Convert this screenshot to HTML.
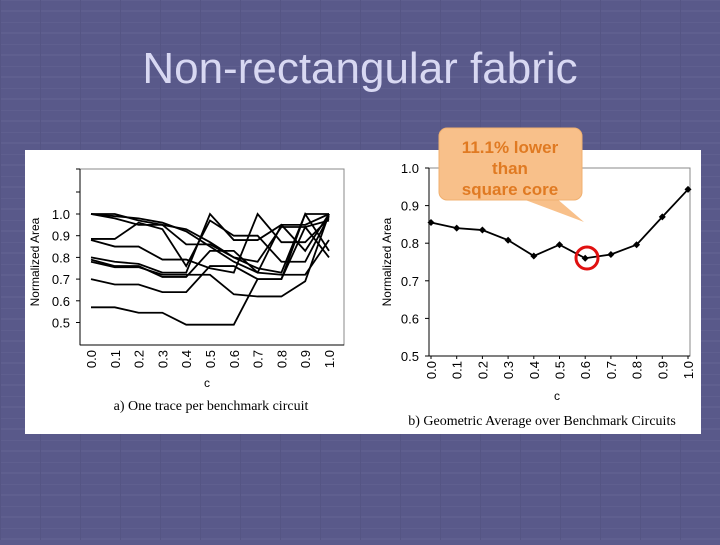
<!DOCTYPE html>
<html><head><meta charset="utf-8"><style>
body{margin:0;width:720px;height:540px;overflow:hidden;background:#5b5b8c;font-family:"Liberation Sans",sans-serif}
</style></head><body>
<svg width="720" height="540" xmlns="http://www.w3.org/2000/svg">
<defs>
<pattern id="grid" width="40" height="22" patternUnits="userSpaceOnUse">
<rect width="40" height="22" fill="#5b5b8c"/>
<path d="M0 0H40M0 11H40" stroke="#6a6a9a" stroke-width="2"/>
<path d="M0 0V22" stroke="#50507e" stroke-width="2"/>
</pattern>
</defs>
<rect width="720" height="540" fill="url(#grid)"/>
<rect width="720" height="540" fill="#585889" opacity="0.6"/>
<text x="360" y="83" font-size="44" fill="#d8d8f2" text-anchor="middle">Non-rectangular fabric</text>
<rect x="25" y="150" width="676" height="284" fill="#ffffff"/>
<g id="left"></g>
<g id="right"></g>
<g>
<path d="M520 198 L584 222 L556 198 Z" fill="#f8c08a"/>
<rect x="439" y="128" width="143" height="72" rx="8" fill="#f8c08a" stroke="#f0b070"/>
<text x="510" y="153" font-size="17" font-weight="bold" fill="#e07a22" text-anchor="middle">11.1% lower</text>
<text x="510" y="174" font-size="17" font-weight="bold" fill="#e07a22" text-anchor="middle">than</text>
<text x="510" y="195" font-size="17" font-weight="bold" fill="#e07a22" text-anchor="middle">square core</text>
</g>
<circle cx="587" cy="258" r="11" fill="none" stroke="#e01010" stroke-width="3"/>
</svg>
<script>
const NS="http://www.w3.org/2000/svg";
const cats=["0.0","0.1","0.2","0.3","0.4","0.5","0.6","0.7","0.8","0.9","1.0"];
const leftTicks=[0.5,0.6,0.7,0.8,0.9,1.0];
const rightTicks=[0.5,0.6,0.7,0.8,0.9,1.0];
const trace1=[1.0,1.0,0.97,0.95,0.93,0.87,0.8,0.75,0.73,1.0,1.0];
const trace2=[1.0,0.99,0.98,0.96,0.92,0.85,0.78,0.73,0.95,0.95,1.0];
const trace3=[1.0,0.98,0.95,0.95,0.86,0.86,0.8,0.78,0.94,0.94,0.97];
const trace4=[0.885,0.885,0.96,0.93,0.76,0.97,0.9,0.9,0.78,0.78,0.99];
const trace5=[0.88,0.85,0.85,0.79,0.79,0.75,0.73,1.0,0.87,0.87,0.98];
const trace6=[0.8,0.78,0.77,0.73,0.73,1.0,0.88,0.88,0.95,0.83,1.0];
const trace7=[0.79,0.76,0.76,0.71,0.71,0.83,0.83,0.73,0.72,0.72,0.88];
const trace8=[0.78,0.755,0.755,0.72,0.72,0.72,0.63,0.62,0.62,0.69,1.0];
const trace9=[0.70,0.675,0.675,0.64,0.64,0.76,0.76,0.70,0.70,0.94,0.80];
const trace10=[0.57,0.57,0.545,0.545,0.49,0.49,0.49,0.70,0.70,1.0,0.83];
const traces=[trace1,trace2,trace3,trace4,trace5,trace6,trace7,trace8,trace9,trace10];
const avg=[0.855,0.84,0.835,0.808,0.766,0.796,0.76,0.77,0.796,0.87,0.943];

function mk(p,tag,a,txt){const e=document.createElementNS(NS,tag);for(const k in a)e.setAttribute(k,a[k]);if(txt!==undefined)e.textContent=txt;p.appendChild(e);return e;}

// left chart
const L=document.getElementById('left');
const lx=i=>91+i*23.8, ly=v=>214+(1.0-v)*217;
mk(L,'rect',{x:80,y:169,width:264,height:176,fill:'none',stroke:'#888','stroke-width':1});
mk(L,'line',{x1:80,y1:169,x2:80,y2:345,stroke:'#000'});
mk(L,'line',{x1:80,y1:345,x2:344,y2:345,stroke:'#000'});
[169,192].forEach(y=>mk(L,'line',{x1:76,y1:y,x2:80,y2:y,stroke:'#000'}));
leftTicks.forEach(t=>{const y=ly(t);mk(L,'line',{x1:76,y1:y,x2:80,y2:y,stroke:'#000'});
 const e=mk(L,'text',{x:70,y:y+5,'font-size':13,'text-anchor':'end',fill:'#000'},t.toFixed(1));
 });
cats.forEach((c,i)=>{const e=mk(L,'text',{transform:`translate(${lx(i)+5},350) rotate(-90)`,'font-size':13,'text-anchor':'end',fill:'#000'},c);
 });
let t=mk(L,'text',{transform:'translate(39,262) rotate(-90)','font-size':12,'text-anchor':'middle',fill:'#000'},'Normalized Area');

t=mk(L,'text',{x:207,y:387,'font-size':12,'text-anchor':'middle',fill:'#000'},'c');

t=mk(L,'text',{x:211,y:410,'font-size':14,'text-anchor':'middle',fill:'#000','font-family':'Liberation Serif'},'a) One trace per benchmark circuit');

traces.forEach(tr=>{const p=mk(L,'polyline',{points:tr.map((v,i)=>lx(i)+','+ly(v)).join(' '),fill:'none',stroke:'#000','stroke-width':1.8});
 });

// right chart
const R=document.getElementById('right');
const rx=i=>431+i*25.7, ry=v=>168+(1.0-v)*376;
mk(R,'rect',{x:429,y:168,width:261,height:188,fill:'none',stroke:'#888'});
mk(R,'line',{x1:429,y1:168,x2:429,y2:356,stroke:'#000'});
mk(R,'line',{x1:429,y1:356,x2:690,y2:356,stroke:'#000'});
rightTicks.forEach(v=>{const y=ry(v);mk(R,'line',{x1:425,y1:y,x2:429,y2:y,stroke:'#000'});
 const e=mk(R,'text',{x:419,y:y+5,'font-size':13,'text-anchor':'end',fill:'#000'},v.toFixed(1));
 });
cats.forEach((c,i)=>{mk(R,'line',{x1:rx(i),y1:356,x2:rx(i),y2:359,stroke:'#000'});
 const e=mk(R,'text',{transform:`translate(${rx(i)+5},361) rotate(-90)`,'font-size':13,'text-anchor':'end',fill:'#000'},c);
 });
t=mk(R,'text',{transform:'translate(391,262) rotate(-90)','font-size':12,'text-anchor':'middle',fill:'#000'},'Normalized Area');

t=mk(R,'text',{x:557,y:400,'font-size':12,'text-anchor':'middle',fill:'#000'},'c');

t=mk(R,'text',{x:542,y:425,'font-size':14,'text-anchor':'middle',fill:'#000','font-family':'Liberation Serif'},'b) Geometric Average over Benchmark Circuits');

const line=mk(R,'polyline',{points:avg.map((v,i)=>rx(i)+','+ry(v)).join(' '),fill:'none',stroke:'#000','stroke-width':1.8});

avg.forEach((v,i)=>{const d=mk(R,'path',{d:`M${rx(i)} ${ry(v)-3.5}l3.5 3.5l-3.5 3.5l-3.5 -3.5z`,fill:'#000'});
 });
</script>
</body></html>
